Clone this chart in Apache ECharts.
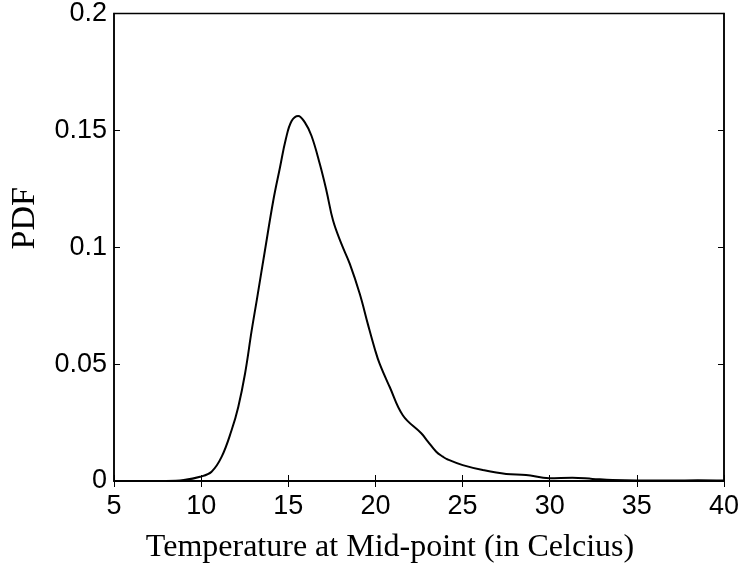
<!DOCTYPE html>
<html>
<head>
<meta charset="utf-8">
<script src="https://cdn.jsdelivr.net/npm/echarts@6/dist/echarts.min.js"></script>
<style>html,body{margin:0;padding:0;background:#fff}#c{width:743px;height:573px}</style>
</head>
<body>
<div id="c"></div>
<script>
const temperature = [8.0, 9.0, 9.94, 10.6, 11.18, 11.75, 12.13, 12.52, 12.9, 13.19, 13.66, 14.14, 14.52, 14.86, 15.19, 15.57, 15.95, 16.33, 16.81, 17.19, 17.57, 18.05, 18.53, 19.1, 19.57, 19.96, 20.24, 20.82, 21.58, 22.63, 23.0, 23.49, 23.87, 24.15, 25.01, 26.16, 27.5, 28.64, 29.97, 31.3, 32.45, 33.6, 35, 37, 38.5, 40];
const pdf = [0, 0.0004, 0.0018, 0.004, 0.0104, 0.0218, 0.0317, 0.046, 0.0644, 0.0773, 0.0986, 0.12, 0.134, 0.1463, 0.154, 0.1562, 0.1534, 0.1477, 0.1356, 0.1242, 0.1114, 0.1014, 0.0929, 0.0801, 0.067, 0.0566, 0.0502, 0.0402, 0.028, 0.0204, 0.017, 0.0125, 0.0104, 0.0092, 0.0068, 0.0047, 0.003, 0.0026, 0.0012, 0.0014, 0.0009, 0.0004, 0.0002, 0.0002, 0.0003, 0.0002];
const xTicks = [5, 10, 15, 20, 25, 30, 35, 40];
const yTicks = [0, 0.05, 0.1, 0.15, 0.2];

const chart = echarts.init(document.getElementById('c'));
const axisLine = {show: true, lineStyle: {color: '#000', width: 1.5}};
const axisTick = {show: true, inside: true, length: 6, lineStyle: {color: '#000', width: 1}};
const sansLabel = {color: '#000', fontFamily: 'Liberation Sans', fontSize: 27};
chart.setOption({
  animation: false,
  grid: {left: 114, top: 13, right: 19, bottom: 92, show: true, borderColor: '#000', borderWidth: 1.5, backgroundColor: 'transparent'},
  xAxis: [{
    type: 'value', min: 5, max: 40, interval: 5, position: 'bottom',
    axisLine, axisTick, splitLine: {show: false},
    axisLabel: Object.assign({margin: 12, formatter: v => xTicks.includes(v) ? String(v) : ''}, sansLabel),
    name: 'Temperature at Mid-point (in Celcius)', nameLocation: 'middle', nameGap: 51,
    nameTextStyle: {color: '#000', fontFamily: 'Liberation Serif', fontSize: 32, padding: [0, 58, 0, 0]}
  }, {
    type: 'value', min: 5, max: 40, interval: 5, position: 'top',
    axisLine, axisTick, splitLine: {show: false}, axisLabel: {show: false}
  }],
  yAxis: [{
    type: 'value', min: 0, max: 0.2, interval: 0.05, position: 'left',
    axisLine, axisTick, splitLine: {show: false},
    axisLabel: Object.assign({margin: 7, formatter: v => { const t = yTicks.find(y => Math.abs(y - v) < 1e-9); return t === undefined ? '' : String(t); }}, sansLabel),
    name: 'PDF', nameLocation: 'middle', nameGap: 72,
    nameTextStyle: {color: '#000', fontFamily: 'Liberation Serif', fontSize: 34, padding: [0, 0, 0, 58]}
  }, {
    type: 'value', min: 0, max: 0.2, interval: 0.05, position: 'right',
    axisLine, axisTick, splitLine: {show: false}, axisLabel: {show: false}
  }],
  series: [{
    type: 'line', xAxisIndex: 0, yAxisIndex: 0,
    data: temperature.map((t, i) => [t, pdf[i]]),
    smooth: 0.4, showSymbol: false,
    lineStyle: {color: '#000', width: 2}
  }]
});
</script>
</body>
</html>
